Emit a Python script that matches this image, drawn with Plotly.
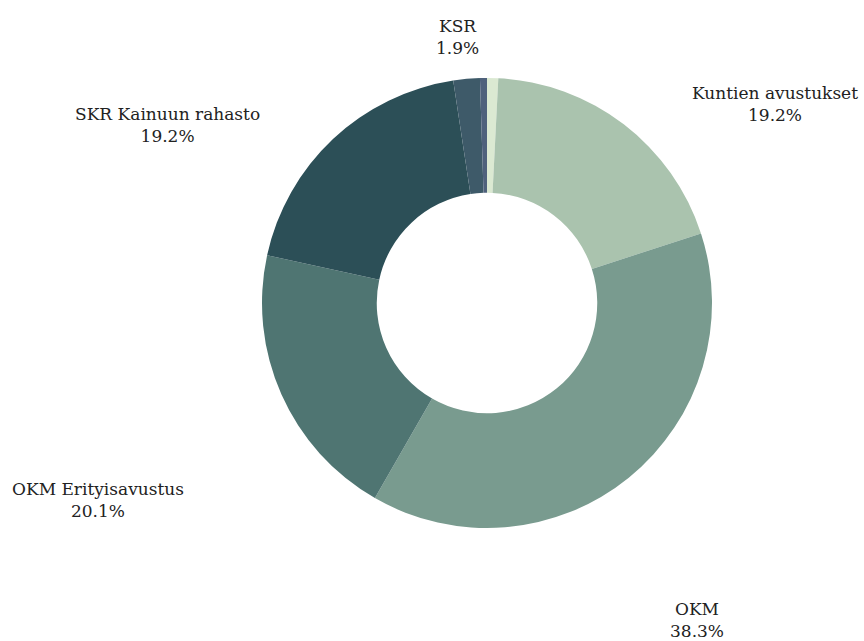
import plotly.graph_objects as go

labels = ["Muu", "Kuntien avustukset", "OKM", "OKM Erityisavustus",
          "SKR Kainuun rahasto", "KSR", "Muut"]
values = [0.8, 19.2, 38.3, 20.1, 19.2, 1.9, 0.5]
colors = ["#dbe9d2", "#aac3ae", "#799b8f", "#4f7572", "#2c4f57", "#3e5a69", "#4f617c"]
show_label = [False, True, True, True, True, True, False]
# label anchor positions (pixel x, pixel y of text centre) in the 864x641 canvas
label_pos = {
    "KSR": (457, 37),
    "Kuntien avustukset": (775, 104),
    "SKR Kainuun rahasto": (167, 125),
    "OKM Erityisavustus": (98, 500),
    "OKM": (697, 620),
}

W, H = 864, 641
cx, cy, r = 487, 303, 225

fig = go.Figure(go.Pie(
    labels=labels, values=values, sort=False, direction="clockwise", rotation=0,
    hole=0.49, marker=dict(colors=colors, line=dict(width=0)),
    textinfo="none", hoverinfo="label+percent", showlegend=False,
    domain=dict(x=[(cx - r) / W, (cx + r) / W], y=[(H - cy - r) / H, (H - cy + r) / H]),
))

total = sum(values)
for lab, val, show in zip(labels, values, show_label):
    if not show:
        continue
    px, py = label_pos[lab]
    fig.add_annotation(
        x=px / W, y=1 - py / H, xref="paper", yref="paper",
        text=f"{lab}<br>{val / total * 100:.1f}%", showarrow=False,
        xanchor="center", yanchor="middle", align="center",
        font=dict(family="DejaVu Serif", size=17, color="#222222"),
    )

fig.update_layout(
    width=W, height=H, margin=dict(l=0, r=0, t=0, b=0),
    paper_bgcolor="white", plot_bgcolor="white",
)
fig.write_html("out.html")
